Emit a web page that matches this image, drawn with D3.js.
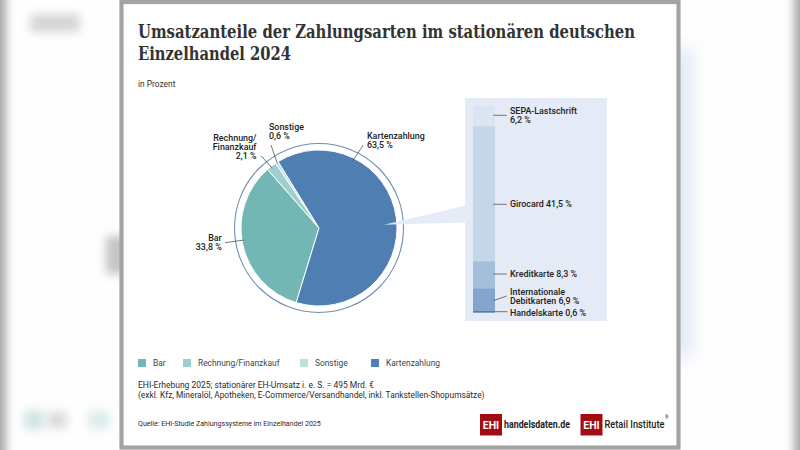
<!DOCTYPE html>
<html lang="de">
<head>
<meta charset="utf-8">
<title>Umsatzanteile der Zahlungsarten</title>
<script src="https://cdn.jsdelivr.net/npm/d3@7"></script>
<style>
    html, body { margin: 0; padding: 0; background: #fff; overflow: hidden; }
    svg { display: block; }
    text { font-family: Roboto, "Noto Sans", sans-serif; }
    .title { font-family: "DejaVu Serif", serif; font-weight: 700; }
    .label { font-size: 8.9px; font-weight: 500; fill: #222; }
    .leader { stroke: #555; stroke-width: 0.8; fill: none; }
</style>
</head>
<body>
<svg id="chart" width="800" height="450"></svg>
<script>
// Daten
const paymentNames = ['Bar', 'Rechnung/Finanzkauf', 'Sonstige', 'Kartenzahlung'];
const paymentValues = [33.8, 2.1, 0.6, 63.5];
const paymentColors = ['#72b7b4', '#9ccfcd', '#bfe0de', '#4f7eb3'];
const legendColors = ['#72b7b4', '#9ccfcd', '#bfe0de', '#4f7fc0'];

const cardNames = ['SEPA-Lastschrift', 'Girocard', 'Kreditkarte', 'Internationale Debitkarten', 'Handelskarte'];
const cardValues = [6.2, 41.5, 8.3, 6.9, 0.6];
const cardColors = ['#dbe4f0', '#c5d6e8', '#a4bfdc', '#83a5cd', '#4f7eb3'];

const titleLines = ['Umsatzanteile der Zahlungsarten im stationären deutschen', 'Einzelhandel 2024'];
const noteLines = [
    'EHI-Erhebung 2025; stationärer EH-Umsatz i. e. S. = 495 Mrd. €',
    '(exkl. Kfz, Mineralöl, Apotheken, E-Commerce/Versandhandel, inkl. Tankstellen-Shopumsätze)'
];

const svg = d3.select('#chart');
const pct = v => `${v.toFixed(1).replace('.', ',')} %`;

const defs = svg.append('defs');
[['blur9', 9], ['blur5', 5]].forEach(([id, s]) => {
    defs.append('filter').attr('id', id)
        .attr('filterUnits', 'userSpaceOnUse')
        .attr('x', -50).attr('y', -50).attr('width', 900).attr('height', 550)
        .append('feGaussianBlur').attr('stdDeviation', s);
});

// --- Hintergrund (unscharfes Foto hinter der Karte) ---
function drawBackdrop() {
    const bg = svg.append('g');
    bg.append('rect').attr('width', 800).attr('height', 450).attr('fill', '#fefefe');
    const blobs = [
        [-14, -20, 20, 490, '#a8a8a8', 'blur5'],
        [794, -20, 20, 490, '#a8a8a8', 'blur5'],
        [30, 14, 50, 18, '#d6d6d6', 'blur5'],
        [106, 236, 24, 38, '#c4c4c4', 'blur5'],
        [672, 48, 20, 310, '#dfe6f4', 'blur9'],
        [24, 410, 20, 20, '#cfe6e4', 'blur5'],
        [47, 412, 20, 16, '#dadada', 'blur5'],
        [88, 411, 22, 18, '#dcecea', 'blur5']
    ];
    blobs.forEach(([x, y, w, h, fill, f]) => {
        bg.append('rect').attr('x', x).attr('y', y).attr('width', w).attr('height', h)
            .attr('fill', fill).attr('filter', `url(#${f})`);
    });
    // Karte
    bg.append('rect').attr('x', 121.5).attr('y', 2).attr('width', 557).attr('height', 445.5)
        .attr('fill', '#fff').attr('stroke', '#a3a3a3').attr('stroke-width', 4.2);
}

// --- Überschrift ---
function drawHeader() {
    const widths = [497, 153];
    svg.append('g').selectAll('text').data(titleLines).join('text')
        .attr('class', 'title')
        .attr('x', 138)
        .attr('y', (d, i) => 37.5 + i * 22.5)
        .attr('font-size', 17.6)
        .attr('textLength', (d, i) => widths[i])
        .attr('lengthAdjust', 'spacingAndGlyphs')
        .style('fill', '#333')
        .text(d => d);
    svg.append('text').attr('x', 138).attr('y', 87).attr('font-size', 8.4)
        .style('fill', '#333').text('in Prozent');
}

// --- Kreisdiagramm ---
function drawPie() {
    const cx = 319, cy = 228, radius = 78;
    const g = svg.append('g').attr('transform', `translate(${cx},${cy})`);
    const pie = d3.pie().sort(null).startAngle(197 * Math.PI / 180).endAngle((197 + 360) * Math.PI / 180);
    const arc = d3.arc().innerRadius(0).outerRadius(radius);

    g.append('circle').attr('r', 84.5).attr('fill', 'none')
        .attr('stroke', '#6f8fb5').attr('stroke-width', 1.1);

    g.selectAll('path').data(pie(paymentValues)).join('path')
        .attr('d', arc)
        .attr('fill', (d, i) => paymentColors[i])
        .attr('stroke', '#fff')
        .attr('stroke-width', 1);
}

// --- Aufriss Kartenzahlung ---
function drawBreakdown() {
    svg.append('rect').attr('x', 465).attr('y', 98).attr('width', 142).attr('height', 223).attr('fill', '#e4eaf6');

    // Keil vom Kreis zum Panel
    svg.append('path')
        .attr('d', d3.line()([[384, 224.7], [465, 205.7], [465, 222.5]]))
        .attr('fill', '#e4eaf6').attr('fill-opacity', 0.92);

    const y = d3.scaleLinear().domain([0, d3.sum(cardValues)]).range([106, 312.7]);
    const stack = d3.cumsum(cardValues);
    svg.append('g').selectAll('rect').data(cardValues).join('rect')
        .attr('x', 473)
        .attr('width', 22)
        .attr('y', (d, i) => y(stack[i] - d))
        .attr('height', d => y(d) - y(0))
        .attr('fill', (d, i) => cardColors[i]);

    const lines = [
        [[493.3, 115.3], [506.7, 115.3]],
        [[493.3, 204.3], [506.7, 204.3]],
        [[493.3, 274], [506.7, 274]],
        [[493.3, 300.7], [506.7, 296]],
        [[495, 311.7], [507.3, 311.7]]
    ];
    lines.forEach(l => svg.append('path').attr('class', 'leader').attr('d', d3.line()(l)));

    const texts = [
        [cardNames[0], 113.5], [pct(cardValues[0]), 123],
        [`${cardNames[1]} ${pct(cardValues[1])}`, 207],
        [`${cardNames[2]} ${pct(cardValues[2])}`, 277],
        ['Internationale', 294.5], [`Debitkarten ${pct(cardValues[3])}`, 304],
        [`${cardNames[4]} ${pct(cardValues[4])}`, 315.5]
    ];
    texts.forEach(([t, yy]) => {
        svg.append('text').attr('class', 'label').attr('x', 510).attr('y', yy).text(t);
    });
}

// --- Beschriftung am Kreis ---
function drawPieLabels() {
    const labels = [
        ['Kartenzahlung', 367, 138.5, 'start'], [pct(paymentValues[3]), 367, 147.7, 'start'],
        ['Sonstige', 269, 129.5, 'start'], [pct(paymentValues[2]), 269, 139, 'start'],
        ['Rechnung/', 256.5, 140.7, 'end'], ['Finanzkauf', 256.5, 150, 'end'], [pct(paymentValues[1]), 256.5, 159.3, 'end'],
        ['Bar', 221.7, 240.7, 'end'], [pct(paymentValues[0]), 221.7, 250.3, 'end']
    ];
    labels.forEach(([t, x, y, anchor]) => {
        svg.append('text').attr('class', 'label').attr('x', x).attr('y', y).attr('text-anchor', anchor).text(t);
    });
    const leaders = [
        [[363.3, 145], [352.7, 160.7]],
        [[271, 145], [277.3, 163.3]],
        [[261, 155.7], [272.3, 168.3]],
        [[225, 242.7], [244, 240]]
    ];
    leaders.forEach(l => svg.append('path').attr('class', 'leader').attr('d', d3.line()(l)));
}

// --- Legende ---
function drawLegend() {
    const swatchX = [138, 183, 300, 371];
    const items = svg.append('g').selectAll('g').data(paymentNames).join('g')
        .attr('transform', (d, i) => `translate(${swatchX[i]},359)`);
    items.append('rect').attr('width', 8).attr('height', 8).attr('fill', (d, i) => legendColors[i]);
    items.append('text').attr('x', 15).attr('y', 7.2).attr('font-size', 8.4)
        .style('fill', '#444').text(d => d);
}

// --- Fußnoten und Logos ---
function drawFooter() {
    const widths = [236, 346.5];
    svg.append('g').selectAll('text').data(noteLines).join('text')
        .attr('x', 138)
        .attr('y', (d, i) => 388 + i * 10.3)
        .attr('font-size', 8.6)
        .attr('textLength', (d, i) => widths[i])
        .attr('lengthAdjust', 'spacingAndGlyphs')
        .style('fill', '#2b2b2b')
        .text(d => d);
    svg.append('text').attr('x', 138).attr('y', 426).attr('font-size', 7.1)
        .style('fill', '#2b2b2b')
        .text('Quelle: EHI-Studie Zahlungssysteme im Einzelhandel 2025');

    const logos = [[480, 'handelsdaten.de', 66, 700], [580.5, 'Retail Institute', 60, 500]];
    logos.forEach(([x, name, width, weight]) => {
        svg.append('rect').attr('x', x).attr('y', 414).attr('width', 22).attr('height', 21.5).attr('fill', '#a30d12');
        svg.append('text').attr('x', x + 11).attr('y', 428.5).attr('text-anchor', 'middle')
            .attr('font-size', 10.5).attr('font-weight', 700).style('fill', '#fff').text('EHI');
        svg.append('text').attr('x', x + 24).attr('y', 428.3)
            .attr('font-size', 10).attr('font-weight', weight)
            .attr('textLength', width).attr('lengthAdjust', 'spacingAndGlyphs')
            .style('fill', '#222').text(name);
    });
    svg.append('text').attr('x', 665).attr('y', 418.5).attr('font-size', 4.5).style('fill', '#222').text('®');
}

drawBackdrop();
drawHeader();
drawPie();
drawBreakdown();
drawPieLabels();
drawLegend();
drawFooter();
</script>
</body>
</html>
